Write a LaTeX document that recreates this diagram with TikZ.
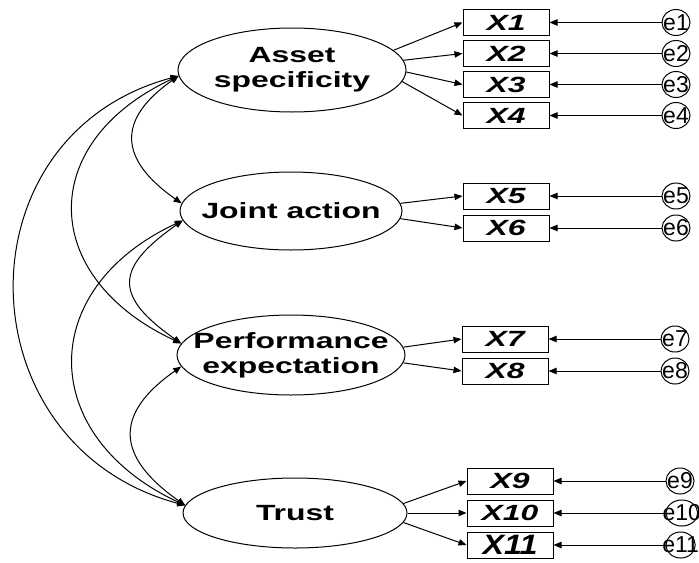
\documentclass[tikz,border=0pt]{standalone}
\usepackage{fontspec}
\setmainfont{Liberation Sans}
\newfontfamily\widefont[FakeStretch=1.45]{Liberation Sans}
\newfontfamily\tallfont[FakeStretch=1.15]{Liberation Sans}
\usetikzlibrary{arrows.meta, positioning, shapes.geometric}

\begin{document}
\begin{tikzpicture}[
x=0.5pt, y=-0.5pt,
node distance=2pt and 56pt,
latent/.style={ellipse, draw=black, line width=0.5pt, inner sep=-12pt, minimum width=114pt, minimum height=40pt, align=center, font=\widefont\bfseries\fontsize{11}{12.5}\selectfont},
obs/.style={rectangle, draw=black, line width=0.5pt, inner sep=0pt, minimum width=43pt, minimum height=13pt, font=\widefont\bfseries\itshape\fontsize{11}{12}\selectfont},
err/.style={ellipse, draw=black, line width=0.5pt, inner sep=-4pt, minimum width=14pt, minimum height=13pt, font=\fontsize{11.5}{12}\selectfont},
line/.style={-{Triangle[length=4pt, width=3.2pt]}, line width=0.5pt},
cov/.style={{Triangle[length=4pt, width=3.2pt]}-{Triangle[length=4pt, width=3.2pt]}, line width=0.5pt}
]
\useasboundingbox (0,0) rectangle (699,562);

\node[latent, minimum height=42pt] (asset) at (292,70) {Asset\\specificity};
\node[latent, minimum width=111pt, minimum height=39pt] (joint) at (291,211) {Joint action};
\node[latent] (perf) at (291,355) {Performance\\expectation};
\node[latent, minimum width=112pt, minimum height=35pt] (trust) at (295,513) {Trust};

\node[obs] (x1) at (506,22.5) {X1};
\node[obs, below=of x1] (x2) {X2};
\node[obs, below=of x2] (x3) {X3};
\node[obs, below=of x3] (x4) {X4};
\node[obs] (x5) at (506,196) {X5};
\node[obs, below=2.5pt of x5] (x6) {X6};
\node[obs] (x7) at (505,339) {X7};
\node[obs, below=2.5pt of x7] (x8) {X8};
\node[obs] (x9) at (510,481) {X9};
\node[obs, below=2.5pt of x9] (x10) {X10};
\node[obs, below=2.5pt of x10, font=\tallfont\bfseries\itshape\fontsize{14}{14}\selectfont] (x11) {X11};

\node[err, right=of x1] (e1) {e1};
\node[err, right=of x2] (e2) {e2};
\node[err, right=of x3] (e3) {e3};
\node[err, right=of x4] (e4) {e4};
\node[err, right=of x5] (e5) {e5};
\node[err, right=of x6] (e6) {e6};
\node[err, right=of x7] (e7) {e7};
\node[err, right=of x8] (e8) {e8};
\node[err, right=of x9] (e9) {e9};
\node[err, right=of x10] (e10) {e10};
\node[err, right=of x11] (e11) {e11};

\draw[line] (asset.11) -- (x1.west);
\draw[line] (asset.5) -- (x2.west);
\draw[line] (asset.-1) -- (x3.west);
\draw[line] (asset.-6) -- (x4.west);
\draw[line] (joint.4) -- (x5.west);
\draw[line] (joint.-4) -- (x6.west);
\draw[line] (perf.4) -- (x7.west);
\draw[line] (perf.-4) -- (x8.west);
\draw[line] (trust.5) -- (x9.west);
\draw[line] (trust.0) -- (x10.west);
\draw[line] (trust.-5) -- (x11.west);

\draw[line] (e1) -- (x1);
\draw[line] (e2) -- (x2);
\draw[line] (e3) -- (x3);
\draw[line] (e4) -- (x4);
\draw[line] (e5) -- (x5);
\draw[line] (e6) -- (x6);
\draw[line] (e7) -- (x7);
\draw[line] (e8) -- (x8);
\draw[line] (e9) -- (x9);
\draw[line] (e10) -- (x10);
\draw[line] (e11) -- (x11);

\draw[cov] (asset.183) to[out=215, in=145, looseness=1.53] (joint.176);
\draw[cov] (asset.183) to[out=205, in=155, looseness=1.5] (perf.174);
\draw[cov] (asset.183) to[out=195, in=165, looseness=1.37] (trust.176);
\draw[cov] (joint.185) to[out=215, in=145, looseness=1.72] (perf.174);
\draw[cov] (joint.185) to[out=205, in=155, looseness=1.46] (trust.176);
\draw[cov] (perf.186) to[out=215, in=145, looseness=1.54] (trust.176);
\end{tikzpicture}
\end{document}
